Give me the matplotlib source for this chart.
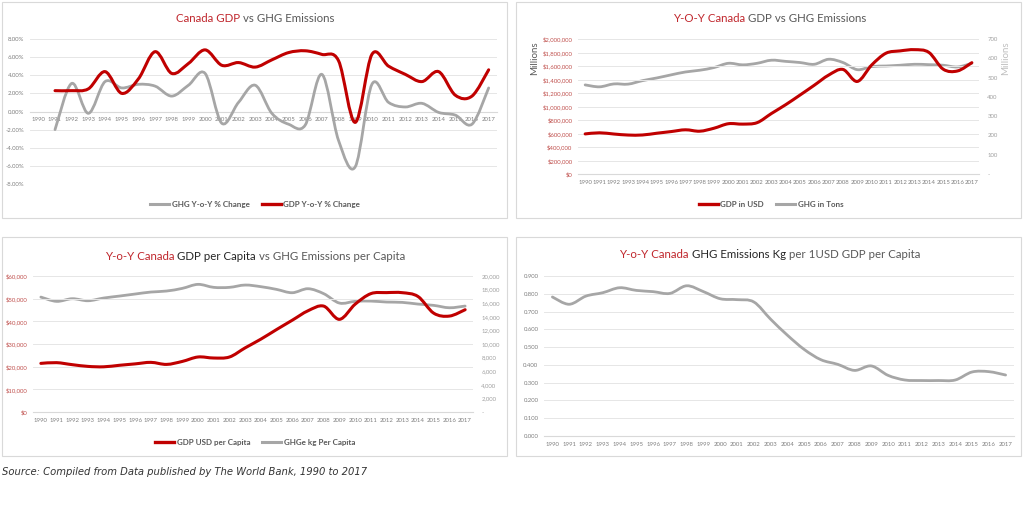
import matplotlib
matplotlib.use('Agg')
import matplotlib.pyplot as plt
from matplotlib.path import Path
from matplotlib.patches import PathPatch, Rectangle
from matplotlib.lines import Line2D
from matplotlib.ticker import FuncFormatter
import numpy as np

years = list(range(1990, 2018))

# chart 1: y-o-y % change (starts 1991)
ghg_yoy = [-2.0, 3.1, -0.2, 3.3, 2.6, 3.0, 2.8, 1.7, 2.9, 4.2, -1.3, 1.0, 2.9, -0.2,
           -1.4, -1.5, 4.1, -3.2, -6.1, 3.0, 1.0, 0.5, 0.9, -0.1, -0.4, -1.4, 2.6]
gdp_yoy = [2.3, 2.3, 2.5, 4.4, 2.0, 3.6, 6.6, 4.2, 5.3, 6.8, 5.1, 5.4, 4.9, 5.7,
           6.5, 6.7, 6.3, 5.6, -1.2, 6.3, 5.0, 4.1, 3.3, 4.4, 1.8, 1.7, 4.6]

# chart 2: GDP (USD millions) and GHG (tons, millions)
gdp_usd = [593900, 610300, 592400, 577200, 578100, 604000, 628500, 654900, 634000,
           678400, 744800, 739000, 760100, 895500, 1026700, 1169400, 1315400,
           1465000, 1549100, 1371200, 1613500, 1789100, 1824000, 1842000, 1801500,
           1552900, 1526700, 1649300]
ghg_tons = [462, 452, 467, 466, 484, 498, 514, 529, 538, 552, 574, 566, 574, 590,
            584, 578, 569, 595, 578, 541, 557, 560, 564, 569, 567, 564, 555, 574]

# chart 3: per capita
gdp_pc = [21450, 21770, 20880, 20120, 19940, 20610, 21230, 21900, 21000, 22310,
          24270, 23820, 24260, 28300, 32140, 36380, 40500, 44660, 46710, 40880,
          47560, 52220, 52670, 52640, 50960, 43600, 42320, 45130]
ghg_pc = [16900, 16270, 16660, 16360, 16760, 17050, 17350, 17640, 17790, 18180,
          18770, 18330, 18330, 18670, 18430, 18030, 17540, 18130, 17400, 16020,
          16270, 16310, 16170, 16120, 15870, 15680, 15330, 15580]

# chart 4: GHG kg per 1 USD GDP per capita
ghg_per_usd = [0.782, 0.741, 0.787, 0.806, 0.834, 0.819, 0.812, 0.802, 0.845, 0.812,
               0.772, 0.767, 0.754, 0.657, 0.567, 0.487, 0.429, 0.403, 0.369, 0.394,
               0.341, 0.315, 0.312, 0.312, 0.315, 0.360, 0.362, 0.343]

RED = '#C00000'
TRED = '#C0272D'
GRAY = '#A6A6A6'
DARK = '#262626'
MID = '#595959'
TICK = '#7F7F7F'
GRID = '#E6E6E6'

plt.rcParams['font.family'] = ['Lato', 'DejaVu Sans']

W, H = 1024, 507
fig = plt.figure(figsize=(W / 100, H / 100), dpi=100)


def rect(x0, y0, x1, y1):
    return [x0 / W, 1 - y1 / H, (x1 - x0) / W, (y1 - y0) / H]


def smooth(ax, xs, ys, color, lw):
    # excel style smoothed line: cubic bezier through the points
    p = np.column_stack([xs, ys]).astype(float)
    ext = np.vstack([p[0], p, p[-1]])
    verts = [p[0]]
    codes = [Path.MOVETO]
    for i in range(len(p) - 1):
        c1 = ext[i + 1] + (ext[i + 2] - ext[i]) / 6
        c2 = ext[i + 2] - (ext[i + 3] - ext[i + 1]) / 6
        verts += [c1, c2, p[i + 1]]
        codes += [Path.CURVE4] * 3
    ax.add_patch(PathPatch(Path(verts, codes), fill=False, ec=color, lw=lw,
                           capstyle='round', joinstyle='round', zorder=3))


def title(xc, yc, parts, size=8.3):
    r = fig.canvas.get_renderer()
    texts = [fig.text(0, 1 - yc / H, s, color=c, fontsize=size, va='center')
             for s, c in parts]
    widths = [t.get_window_extent(r).width for t in texts]
    x = xc - sum(widths) / 2
    for t, w in zip(texts, widths):
        t.set_x(x / W)
        x += w


def frame(x0, y0, x1, y1):
    fig.patches.append(Rectangle((x0 / W, 1 - y1 / H), (x1 - x0) / W, (y1 - y0) / H,
                                 transform=fig.transFigure, fill=False,
                                 ec='#D9D9D9', lw=0.8))


def base(ax, ylo, yhi, step, color=TICK):
    ax.set_xlim(-0.5, len(years) - 0.5)
    ax.set_ylim(ylo, yhi)
    ax.set_yticks(np.arange(ylo, yhi + step / 2, step))
    ax.set_xticks(range(len(years)))
    ax.set_xticklabels(years)
    ax.grid(axis='y', color=GRID, lw=0.7)
    ax.set_axisbelow(True)
    for s in ['top', 'right', 'left']:
        ax.spines[s].set_visible(False)
    ax.spines['bottom'].set_color('#D9D9D9')
    ax.tick_params(length=0, labelsize=4.3, colors=TICK, pad=4)
    ax.tick_params(axis='y', colors=color)
    ax.patch.set_alpha(0)


def legend(xc, yc, handles):
    fig.legend(handles=handles, loc='center', bbox_to_anchor=(xc / W, 1 - yc / H),
               ncol=2, frameon=False, fontsize=5.8, handlelength=2.4,
               columnspacing=1.5, handletextpad=0.3, labelcolor=MID,
               prop={'weight': 'bold', 'size': 5.8})


for r4 in [(2, 2, 507, 218), (516, 2, 1021, 218), (2, 237, 507, 456), (516, 237, 1021, 456)]:
    frame(*r4)

# chart 1
ax1 = fig.add_axes(rect(30, 39, 497, 184))
base(ax1, -8, 8, 2)
ax1.spines['bottom'].set_position(('data', 0))
ax1.yaxis.set_major_formatter(FuncFormatter(lambda v, p: '%.2f%%' % v))
smooth(ax1, range(1, 28), ghg_yoy, GRAY, 2.0)
smooth(ax1, range(1, 28), gdp_yoy, RED, 2.2)
title(255, 18, [('Canada GDP', TRED), (' vs GHG Emissions', MID)])
legend(255, 204, [Line2D([], [], color=GRAY, lw=2.2, label='GHG Y-o-Y % Change'),
                  Line2D([], [], color=RED, lw=2.4, label='GDP Y-o-Y % Change')])

# chart 2
ax2 = fig.add_axes(rect(578, 39, 979, 174))
base(ax2, 0, 2000000, 200000, color='#C0504D')
ax2.yaxis.set_major_formatter(FuncFormatter(lambda v, p: '${:,.0f}'.format(v)))
ax2b = ax2.twinx()
ax2b.set_ylim(0, 700)
ax2b.set_yticks(range(0, 701, 100))
ax2b.yaxis.set_major_formatter(FuncFormatter(lambda v, p: '-' if v == 0 else '%d' % v))
ax2b.tick_params(length=0, labelsize=4.3, colors='#A0A0A0', pad=6)
for s in ax2b.spines.values():
    s.set_visible(False)
smooth(ax2b, range(28), ghg_tons, GRAY, 2.0)
smooth(ax2, range(28), gdp_usd, RED, 2.2)
ax2.set_zorder(ax2b.get_zorder() + 1)
fig.text(535 / W, 1 - 58 / H, 'Millions', rotation=90, ha='center', va='center',
         fontsize=7, color=MID)
fig.text(1006 / W, 1 - 58 / H, 'Millions', rotation=90, ha='center', va='center',
         fontsize=7, color='#BFBFBF')
title(770, 18, [('Y-O-Y Canada', TRED), (' GDP vs GHG Emissions', MID)])
legend(771, 204, [Line2D([], [], color=RED, lw=2.4, label='GDP in USD'),
                  Line2D([], [], color=GRAY, lw=2.2, label='GHG in Tons')])

# chart 3
ax3 = fig.add_axes(rect(33, 276, 473, 412))
base(ax3, 0, 60000, 10000, color='#C0504D')
ax3.yaxis.set_major_formatter(FuncFormatter(lambda v, p: '${:,.0f}'.format(v)))
ax3b = ax3.twinx()
ax3b.set_ylim(0, 20000)
ax3b.set_yticks(range(0, 20001, 2000))
ax3b.yaxis.set_major_formatter(FuncFormatter(lambda v, p: '-' if v == 0 else '{:,.0f}'.format(v)))
ax3b.tick_params(length=0, labelsize=4.3, colors='#A0A0A0', pad=6)
for s in ax3b.spines.values():
    s.set_visible(False)
smooth(ax3b, range(28), ghg_pc, GRAY, 2.0)
smooth(ax3, range(28), gdp_pc, RED, 2.2)
ax3.set_zorder(ax3b.get_zorder() + 1)
title(255, 256, [('Y-o-Y Canada', TRED), (' GDP per Capita', DARK),
                 (' vs GHG Emissions per Capita', MID)])
legend(255, 442, [Line2D([], [], color=RED, lw=2.4, label='GDP USD per Capita'),
                  Line2D([], [], color=GRAY, lw=2.2, label='GHGe kg Per Capita')])

# chart 4
ax4 = fig.add_axes(rect(544, 276, 1014, 436))
base(ax4, 0, 0.9, 0.1)
ax4.yaxis.set_major_formatter(FuncFormatter(lambda v, p: '%.3f' % v))
smooth(ax4, range(28), ghg_per_usd, GRAY, 2.0)
title(770, 255, [('Y-o-Y Canada', TRED), (' GHG Emissions Kg', DARK),
                 (' per 1USD GDP per Capita', MID)])

fig.text(2 / W, 1 - 472 / H, 'Source: Compiled from Data published by The World Bank, 1990 to 2017',
         family='DejaVu Sans', style='italic', fontsize=7.2, color='#333333', va='center')

fig.savefig('out.png', dpi=100)
